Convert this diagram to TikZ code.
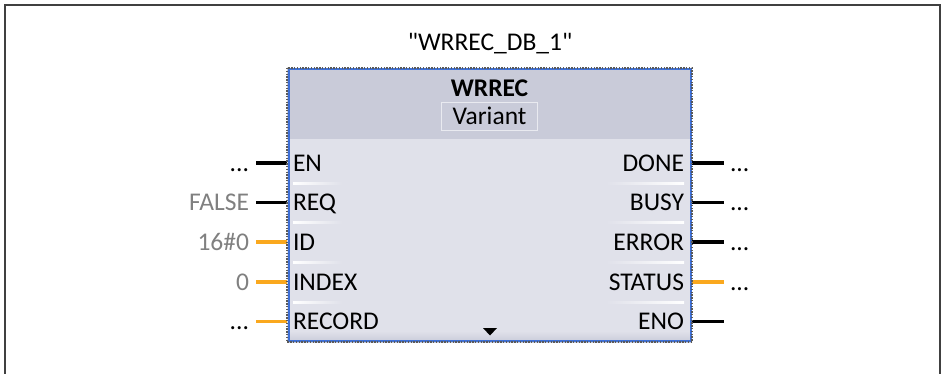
\documentclass[tikz,border=0pt]{standalone}
\usepackage{fontspec}
\setmainfont{Carlito}
\usetikzlibrary{positioning}
\definecolor{pinorange}{RGB}{250,168,30}
\definecolor{bodygray}{RGB}{224,225,234}
\definecolor{headgray}{RGB}{201,203,217}
\definecolor{frameblue}{RGB}{62,112,214}
\definecolor{valgray}{RGB}{128,128,128}
\newcommand{\pindots}{...}
\tikzset{
  txt/.style={inner sep=0pt, outer sep=0pt, text height=16.4pt, text depth=0pt,
    font=\fontsize{25.5}{28}\selectfont
  },
  block/.style={
    minimum width=405pt, minimum height=274pt, inner sep=0pt, outer sep=0pt
  },
  pinline/.style={line width=3.8pt}
}
\begin{document}
\begin{tikzpicture}[x=1pt,y=-1pt]
 \useasboundingbox (0,0) rectangle (941,374);
 \draw[line width=1.6pt,black!75] (5,374) -- (5,5) -- (940,5) -- (940,374);

 \node[txt] (inst) at (490,42) {\textquotedbl WRREC\_DB\_1\textquotedbl};
 \node[block] (blk) at (489.5,205) {};

 % body and header
 \fill[bodygray] (blk.north west) rectangle (blk.south east);
 \fill[headgray] (287,68) rectangle (692,139);
 \shade[top color=bodygray, bottom color=headgray] (287,331) rectangle (692,342);
 \node[txt, font=\bfseries\fontsize{25.5}{28}\selectfont] (name) at (489.5,88) {WRREC};
 \node[txt, draw=bodygray!70!white, line width=1.6pt, minimum width=96pt,
   minimum height=28pt] (variant) at (489.5,116.5) {Variant};

 % separators
 \foreach \s in {183,222.5,262,302} {
   \shade[left color=white, right color=bodygray] (293,\s-1) rectangle (342,\s+1);
   \shade[left color=bodygray, right color=white] (606,\s-1) rectangle (684,\s+1);
 }

 % pins
 \foreach \i/\y/\inname/\inval/\invcol/\incol/\outname/\outval/\outcol in {
   1/163/EN/\pindots/black/black/DONE/\pindots/black,
   2/202.5/REQ/FALSE/valgray/black/BUSY/\pindots/black,
   3/242/ID/16\#0/valgray/pinorange/ERROR/\pindots/black,
   4/282/INDEX/0/valgray/pinorange/STATUS/\pindots/pinorange,
   5/321.5/RECORD/\pindots/black/pinorange/ENO//black} {
   \coordinate (in-\i) at (256,\y);
   \coordinate (out-\i) at (724,\y);
   \draw[pinline,\incol] (in-\i) -- (in-\i -| blk.west);
   \draw[pinline,\outcol] (out-\i -| blk.east) -- (out-\i);
   \node[txt, text=\invcol, left=7pt of in-\i] (inv-\i) {\inval};
   \node[txt, right=6pt of out-\i] (outv-\i) {\outval};
   \node[txt, anchor=west] (inp-\i) at (293,\y) {\inname};
   \node[txt, anchor=east] (outp-\i) at (684,\y) {\outname};
 }

 \fill (483,328) -- (497,328) -- (490,335.5) -- cycle;

 % frame
 \draw[frameblue, line width=2pt] (288.5,69.5) rectangle (690.5,340.5);
 \draw[black!65, line width=1.4pt, dash pattern=on 1.4pt off 1.4pt]
   (blk.north west) rectangle (blk.south east);
\end{tikzpicture}
\end{document}
